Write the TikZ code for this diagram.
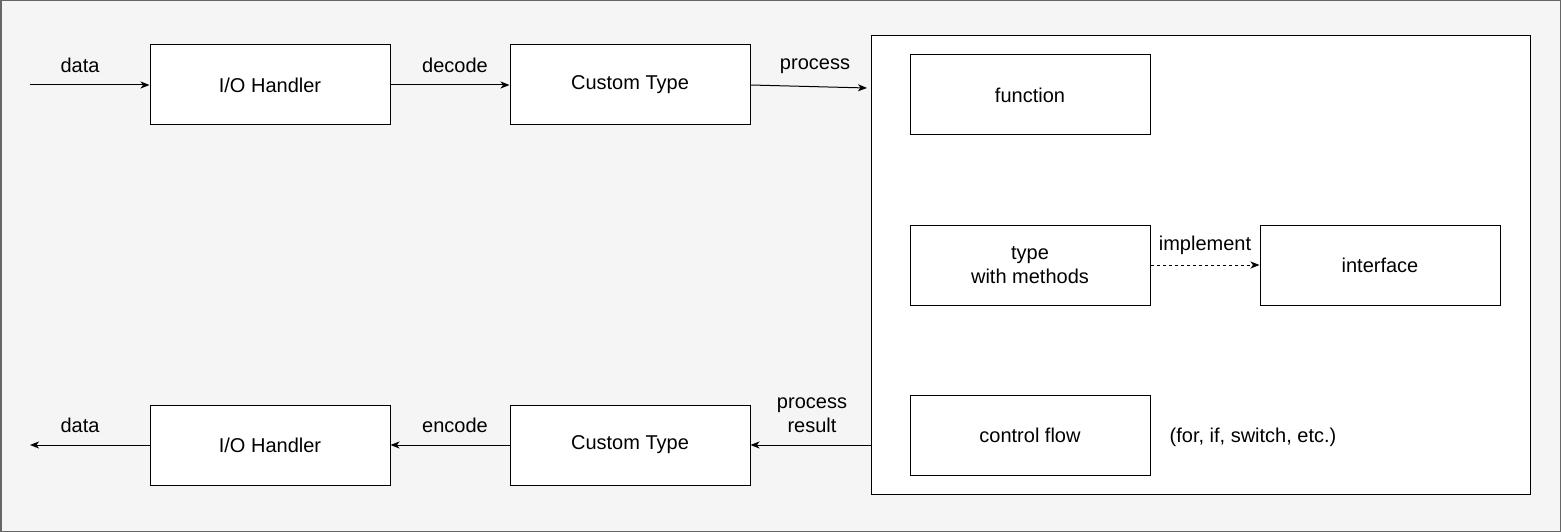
\documentclass[tikz,border=0pt]{standalone}
\usepackage{fontspec}
\setmainfont{Liberation Sans}
\usetikzlibrary{arrows.meta}
\definecolor{bgfill}{HTML}{F5F5F5}
\definecolor{bgline}{HTML}{666666}
\begin{document}
\begin{tikzpicture}[
        x=1pt, y=-1pt,
        every node/.style={font=\fontsize{20}{24}\selectfont, align=center},
        box/.style={draw, fill=white, line width=1pt, minimum width=240pt, minimum height=80pt, inner sep=0pt},
        lbl/.style={inner sep=0pt},
        arr/.style={draw, line width=1pt, -{Stealth[length=9pt, width=7pt, inset=2.5pt]}},
        dasharr/.style={arr, dash pattern=on 3pt off 3pt},
    ]
    \useasboundingbox (0,0) rectangle (1561,532);
    \draw[fill=bgfill, draw=bgline, line width=1.5pt] (0.75,0.75) rectangle (1560.25,531.25);

    % processing area
    \node[box, minimum width=659pt, minimum height=458pt] (core) at (1200.5,265) {};
    \node[box] (func) at (1030,95) {function};
    \node[box] (typ) at (1030,265) {type\\with methods};
    \node[box] (iface) at (1380,265) {interface};
    \node[box] (ctrl) at (1030,435) {control flow};
    \node[lbl] (ctrlnote) at (1253,437) {(for, if, switch, etc.)};

    % input side
    \coordinate (datain) at (30,85);
    \node[box] (io1) at (270,85) {I/O Handler};
    \node[box] (ct1) at (630,85) {Custom Type};
    \coordinate (corein) at (867,88);

    % output side
    \coordinate (dataout) at (30,445);
    \node[box] (io2) at (270,445) {I/O Handler};
    \node[box] (ct2) at (630,445) {Custom Type};

    % labels
    \node[lbl] (ldata1) at (80,65) {data};
    \node[lbl] (ldecode) at (455,65) {decode};
    \node[lbl] (lproc) at (815,66) {process};
    \node[lbl] (limpl) at (1205,245) {implement};
    \node[lbl] (lres) at (812,415) {process\\result};
    \node[lbl] (lencode) at (455,425) {encode};
    \node[lbl] (ldata2) at (80,425) {data};

    \draw[arr] (datain) -- (io1);
    \draw[arr] (io1) -- (ct1);
    \draw[arr] (ct1.east) -- (corein);
    \draw[dasharr] (typ) -- (iface);
    \draw[arr] (core.west |- ct2.east) -- (ct2.east);
    \draw[arr] (ct2) -- (io2);
    \draw[arr] (io2.west) -- (dataout);
\end{tikzpicture}
\end{document}
